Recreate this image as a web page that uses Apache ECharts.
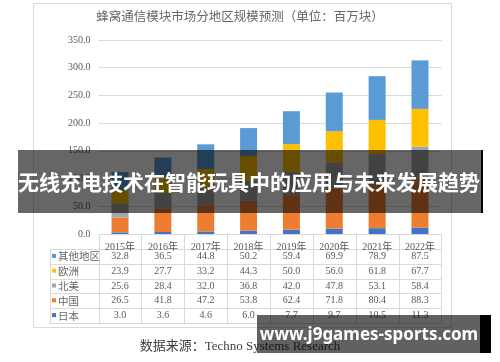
<!DOCTYPE html>
<html><head><meta charset="utf-8">
<script src="https://cdn.jsdelivr.net/npm/echarts@6/dist/echarts.min.js"></script>
<style>html,body{margin:0;padding:0;background:#fff}#c{width:500px;height:362px}</style>
</head><body><div id="c"></div>
<script>
const years = ['2015年','2016年','2017年','2018年','2019年','2020年','2021年','2022年'];
const otherRegions = [32.8,36.5,44.8,50.2,59.4,69.9,78.9,87.5];
const europe = [23.9,27.7,33.2,44.3,50.0,56.0,61.8,67.7];
const northAmerica = [25.6,28.4,32.0,36.8,42.0,47.8,53.1,58.4];
const china = [26.5,41.8,47.2,53.8,62.4,71.8,80.4,88.3];
const japan = [3.0,3.6,4.6,6.0,7.7,9.7,10.5,11.3];
const seriesNames = ['日本','中国','北美','欧洲','其他地区'];
const seriesData = [japan, china, northAmerica, europe, otherRegions];
const seriesColors = ['#4472C4','#ED7D31','#A5A5A5','#FFC000','#5B9BD5'];
const tableOrder = [4,3,2,1,0];
const title = '蜂窝通信模块市场分地区规模预测（单位：百万块）';
const source = '数据来源：Techno Systems Research';
const banner = '无线充电技术在智能玩具中的应用与未来发展趋势';
const watermark = 'www.j9games-sports.com';

const chart = echarts.init(document.getElementById('c'), null, {renderer:'canvas'});
const G = {left:98.6, right:58.6, top:40, bottom:128};
const serif = '"Liberation Serif", "Noto Sans CJK SC", serif';
const cjk = '"Noto Sans CJK SC", sans-serif';

chart.setOption({
  animation:false,
  grid:{left:G.left,right:G.right,top:G.top,bottom:G.bottom,containLabel:false},
  xAxis:{type:'category',data:years,axisLine:{show:false},axisTick:{show:false},
    axisLabel:{show:true,margin:8,color:'#595959',fontFamily:serif,fontSize:10}},
  yAxis:{type:'value',min:0,max:350,interval:50,
    axisLabel:{formatter:v=>v.toFixed(1),color:'#595959',fontFamily:serif,fontSize:10,margin:8},
    splitLine:{lineStyle:{color:'#d9d9d9',width:1}},axisLine:{show:false},axisTick:{show:false}},
  series: seriesNames.map((n,i)=>({name:n,type:'bar',stack:'s',barWidth:17,
    data:seriesData[i],itemStyle:{color:seriesColors[i]}}))
});

function build(){
  const g = [];
  const W = 500;
  const plotRight = W - G.right;
  const step = (plotRight - G.left)/years.length;
  g.push({type:'rect',shape:{x:33.5,y:3.5,width:418,height:324},style:{fill:'none',stroke:'#d9d9d9',lineWidth:1},z:-10});
  g.push({type:'text',style:{text:title,x:240,y:16,align:'center',verticalAlign:'middle',font:'12.5px '+cjk,fill:'#666'}});
  const hdrTop = 234, hdrBot = 249, rowH = 14.8;
  const tableLeft = 50;
  const lineStyle = {stroke:'#d9d9d9',lineWidth:1};
  const nRows = tableOrder.length;
  const tBottom = hdrBot + nRows*rowH;
  g.push({type:'line',shape:{x1:G.left,y1:hdrTop+0.5,x2:plotRight,y2:hdrTop+0.5},style:lineStyle});
  for(let r=0;r<=nRows;r++){
    const y = Math.round(hdrBot + r*rowH)+0.5;
    g.push({type:'line',shape:{x1:tableLeft,y1:y,x2:plotRight,y2:y},style:lineStyle});
  }
  g.push({type:'line',shape:{x1:tableLeft+0.5,y1:hdrBot,x2:tableLeft+0.5,y2:tBottom},style:lineStyle});
  for(let c=0;c<=years.length;c++){
    const x = Math.round(G.left + c*step)+0.5;
    g.push({type:'line',shape:{x1:x,y1:hdrTop,x2:x,y2:tBottom},style:lineStyle});
  }
  tableOrder.forEach((si,r)=>{
    const cy = hdrBot + r*rowH + rowH/2;
    g.push({type:'rect',shape:{x:52,y:cy-2.5,width:4,height:4},style:{fill:seriesColors[si]}});
    g.push({type:'text',style:{text:seriesNames[si],x:58,y:cy,verticalAlign:'middle',font:'10.5px '+cjk,fill:'#666'}});
    seriesData[si].forEach((v,c)=>{
      const px = chart.convertToPixel({xAxisIndex:0}, years[c]);
      g.push({type:'text',style:{text:v.toFixed(1),x:px,y:cy,align:'center',verticalAlign:'middle',font:'10px '+serif,fill:'#595959'}});
    });
  });
  g.push({type:'text',style:{text:source,x:240,y:347,align:'center',verticalAlign:'middle',font:'13px '+serif,fill:'#404040'}});
  g.push({type:'rect',shape:{x:18,y:150,width:463,height:63},style:{fill:'rgba(0,0,0,0.6)'},z:100});
  g.push({type:'rect',shape:{x:481,y:150,width:2,height:63},style:{fill:'#000'},z:100});
  g.push({type:'text',style:{text:banner,x:249,y:182,align:'center',verticalAlign:'middle',font:'bold 21px '+cjk,fill:'#fff'},z:101});
  g.push({type:'rect',shape:{x:257,y:315,width:223,height:38},style:{fill:'rgba(0,0,0,0.62)'},z:100});
  g.push({type:'rect',shape:{x:480,y:315,width:11,height:38},style:{fill:'#000'},z:100});
  g.push({type:'text',style:{text:watermark,x:369,y:335,align:'center',verticalAlign:'middle',font:'bold 17px "Noto Sans", sans-serif',fill:'#fff'},z:101});
  chart.setOption({graphic:{elements:g}});
}
build();
</script></body></html>
